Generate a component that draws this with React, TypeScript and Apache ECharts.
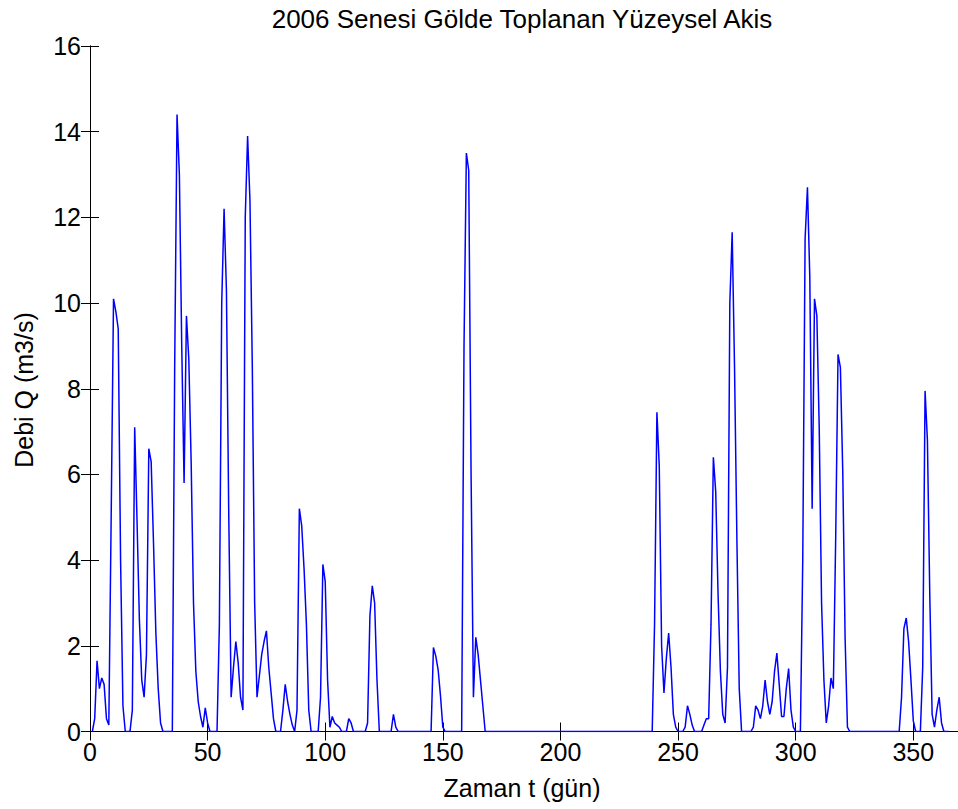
import { useEffect, useRef } from "react";
import * as echarts from "echarts";

// Daily runoff (m3/s), days 1..365 (2006)
const flowQ: number[] = [
  // 1-10
  0, 0.3, 1.65, 1.0, 1.25, 1.1, 0.3, 0.15, 5.0, 10.1,
  // 11-20
  9.8, 9.4, 4.0, 0.6, 0, 0, 0, 0.5, 7.1, 4.9,
  // 21-30
  2.6, 1.2, 0.8, 1.8, 6.6, 6.3, 4.4, 2.3, 1.0, 0.2,
  // 31-40
  0, 0, 0, 0, 0, 8.5, 14.4, 13.0, 9.0, 5.8,
  // 41-50
  9.7, 8.7, 6.3, 3.0, 1.4, 0.7, 0.35, 0.1, 0.55, 0.2,
  // 51-60
  0, 0, 0, 0, 2.5, 10.0, 12.2, 10.3, 5.0, 0.8,
  // 61-70
  1.5, 2.1, 1.6, 0.8, 0.5, 12.0, 13.9, 12.4, 8.5, 3.0,
  // 71-80
  0.8, 1.3, 1.8, 2.1, 2.35, 1.5, 0.9, 0.3, 0, 0,
  // 81-90
  0, 0.5, 1.1, 0.7, 0.4, 0.15, 0, 0.5, 5.2, 4.8,
  // 91-100
  3.8, 2.5, 0.5, 0, 0, 0, 0, 0.8, 3.9, 3.5,
  // 101-110
  1.2, 0.1, 0.35, 0.2, 0.15, 0.1, 0, 0, 0, 0.3,
  // 111-120
  0.2, 0, 0, 0, 0, 0, 0, 0.2, 2.7, 3.4,
  // 121-130
  3.0, 1.2, 0, 0, 0, 0, 0, 0, 0.4, 0.1,
  // 131-140
  0, 0, 0, 0, 0, 0, 0, 0, 0, 0,
  // 141-150
  0, 0, 0, 0, 0, 1.96, 1.76, 1.44, 0.83, 0.1,
  // 151-160
  0, 0, 0, 0, 0, 0, 0, 0, 9.0, 13.5,
  // 161-170
  13.1, 6.0, 0.8, 2.2, 1.8, 1.2, 0.6, 0, 0, 0,
  // 171-180
  0, 0, 0, 0, 0, 0, 0, 0, 0, 0,
  // 181-190
  0, 0, 0, 0, 0, 0, 0, 0, 0, 0,
  // 191-200
  0, 0, 0, 0, 0, 0, 0, 0, 0, 0,
  // 201-210
  0, 0, 0, 0, 0, 0, 0, 0, 0, 0,
  // 211-220
  0, 0, 0, 0, 0, 0, 0, 0, 0, 0,
  // 221-230
  0, 0, 0, 0, 0, 0, 0, 0, 0, 0,
  // 231-240
  0, 0, 0, 0, 0, 0, 0, 0, 0, 2.5,
  // 241-250
  7.45, 6.2, 2.0, 0.9, 1.7, 2.3, 1.5, 0.4, 0.1, 0,
  // 251-260
  0, 0, 0.1, 0.6, 0.4, 0.15, 0, 0, 0, 0,
  // 261-270
  0.15, 0.3, 0.3, 2.5, 6.4, 5.6, 3.2, 1.4, 0.4, 0.2,
  // 271-280
  1.5, 10.0, 11.65, 8.5, 4.5, 1.0, 0, 0, 0, 0,
  // 281-290
  0, 0.1, 0.6, 0.5, 0.3, 0.6, 1.2, 0.7, 0.4, 0.7,
  // 291-300
  1.4, 1.83, 1.1, 0.35, 0.35, 1.0, 1.47, 0.5, 0.1, 0,
  // 301-310
  0, 0, 4.0, 11.5, 12.7, 10.6, 5.2, 10.1, 9.7, 7.1,
  // 311-320
  3.0, 1.2, 0.2, 0.6, 1.25, 1.0, 4.5, 8.8, 8.5, 6.1,
  // 321-330
  2.2, 0.1, 0, 0, 0, 0, 0, 0, 0, 0,
  // 331-340
  0, 0, 0, 0, 0, 0, 0, 0, 0, 0,
  // 341-350
  0, 0, 0, 0, 0.8, 2.4, 2.65, 2.1, 1.2, 0.25,
  // 351-360
  0, 0, 0, 1.5, 7.95, 6.8, 3.2, 0.4, 0.1, 0.5,
  // 361-365
  0.8, 0.2, 0, 0, 0,
];

const firstDay = 1;
const xMin = 0;
const xMax = 369;
const xStep = 50;
const yMin = 0;
const yMax = 16;
const yStep = 2;

const titleText = "2006 Senesi Gölde Toplanan Yüzeysel Akis";
const xName = "Zaman t (gün)";
const yName = "Debi Q (m3/s)";

const FONT = "'Liberation Sans', Arial, Helvetica, sans-serif";

export default function App() {
  const ref = useRef<HTMLDivElement>(null);

  useEffect(() => {
    if (!ref.current) return;
    const chart = echarts.init(ref.current, null, { renderer: "svg" });
    const seriesData = flowQ.map((v, i) => [firstDay + i, v]);

    const axisLine = { show: true, lineStyle: { color: "#000", width: 1 } };
    const tick = { show: true, inside: true, length: 9, lineStyle: { color: "#000", width: 1 } };
    const label = {
      color: "#000",
      fontFamily: FONT,
      fontSize: 25,
    };

    chart.setOption({
      animation: false,
      backgroundColor: "#fff",
      grid: { left: 90, right: 0, top: 46, bottom: 77.5, containLabel: false },
      xAxis: [
        {
          type: "value",
          min: xMin,
          max: xMax,
          interval: xStep,
          position: "bottom",
          axisLine,
          axisTick: tick,
          splitLine: { show: false },
          axisLabel: { ...label, margin: 8, showMaxLabel: false },
        },
        {
          type: "value",
          min: xMin,
          max: xMax,
          interval: xStep,
          position: "top",
          axisLine,
          axisTick: tick,
          splitLine: { show: false },
          axisLabel: { show: false },
        },
      ],
      yAxis: [
        {
          type: "value",
          min: yMin,
          max: yMax,
          interval: yStep,
          position: "left",
          axisLine,
          axisTick: tick,
          splitLine: { show: false },
          axisLabel: { ...label, margin: 9 },
        },
        {
          type: "value",
          min: yMin,
          max: yMax,
          interval: yStep,
          position: "right",
          axisLine,
          axisTick: tick,
          splitLine: { show: false },
          axisLabel: { show: false },
        },
      ],
      series: [
        {
          type: "line",
          xAxisIndex: 0,
          yAxisIndex: 0,
          data: seriesData,
          showSymbol: false,
          symbol: "none",
          lineStyle: { color: "#0000ff", width: 1.5 },
          itemStyle: { color: "#0000ff" },
        },
      ],
      graphic: [
        {
          type: "text",
          x: 522,
          y: 19,
          style: {
            text: titleText,
            fill: "#000",
            font: `26px ${FONT}`,
            align: "center",
            verticalAlign: "middle",
            textAlign: "center",
            textVerticalAlign: "middle",
          },
        },
        {
          type: "text",
          x: 522,
          y: 788,
          style: {
            text: xName,
            fill: "#000",
            font: `25px ${FONT}`,
            align: "center",
            verticalAlign: "middle",
            textAlign: "center",
            textVerticalAlign: "middle",
          },
        },
        {
          type: "text",
          x: 24,
          y: 390,
          rotation: Math.PI / 2,
          style: {
            text: yName,
            fill: "#000",
            font: `25px ${FONT}`,
            align: "center",
            verticalAlign: "middle",
            textAlign: "center",
            textVerticalAlign: "middle",
          },
        },
      ],
    });

    return () => chart.dispose();
  }, []);

  return (
    <div
      ref={ref}
      style={{ position: "fixed", left: 0, top: 0, width: 958, height: 809, background: "#fff" }}
    />
  );
}
